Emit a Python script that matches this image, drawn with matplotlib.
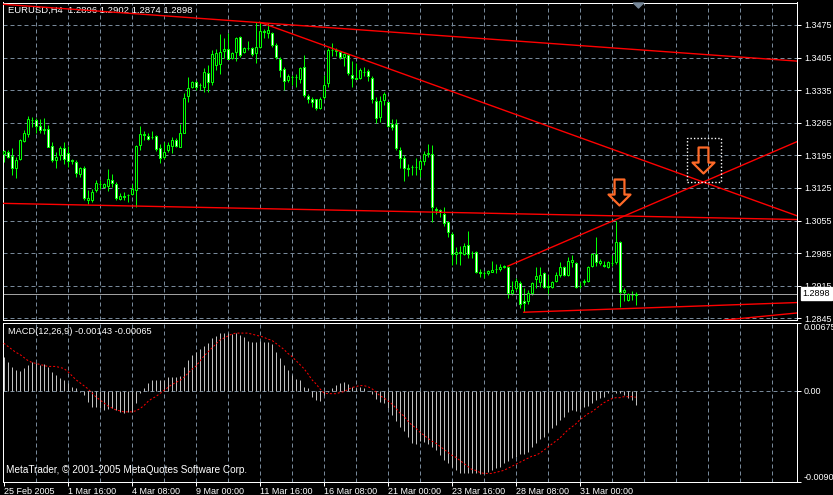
"""EURUSD H4 chart in the MetaTrader look: candles, trend lines, MACD"""

import numpy as np
import matplotlib.pyplot as plt
from matplotlib.path import Path
from matplotlib.patches import Rectangle
from matplotlib.transforms import ScaledTranslation, blended_transform_factory

plt.rcParams['font.family'] = ['Liberation Sans', 'DejaVu Sans']

symbol = 'EURUSD,H4'

# H4 bars, 25 Feb 2005 00:00 .. 1 Apr 2005
opens = [
    1.3197, 1.3202, 1.3193, 1.3168, 1.3188, 1.3226, 1.3240, 1.3271, 1.3271, 1.3259,
    1.3251, 1.3251, 1.3215, 1.3184, 1.3195, 1.3210, 1.3199, 1.3184, 1.3181, 1.3154,
    1.3167, 1.3099, 1.3098, 1.3120, 1.3134, 1.3127, 1.3129, 1.3143, 1.3134, 1.3101,
    1.3107, 1.3109, 1.3112, 1.3121, 1.3217, 1.3240, 1.3237, 1.3235, 1.3236, 1.3210,
    1.3192, 1.3206, 1.3215, 1.3227, 1.3213, 1.3243, 1.3323, 1.3342, 1.3352, 1.3346,
    1.3342, 1.3371, 1.3353, 1.3389, 1.3391, 1.3419, 1.3424, 1.3405, 1.3418, 1.3449,
    1.3418, 1.3426, 1.3425, 1.3414, 1.3428, 1.3462, 1.3457, 1.3457, 1.3432, 1.3403,
    1.3380, 1.3357, 1.3364, 1.3363, 1.3360, 1.3384, 1.3322, 1.3316, 1.3315, 1.3297,
    1.3321, 1.3351, 1.3421, 1.3420, 1.3416, 1.3406, 1.3411, 1.3367, 1.3361, 1.3361,
    1.3375, 1.3376, 1.3362, 1.3311, 1.3278, 1.3314, 1.3309, 1.3263, 1.3262, 1.3207,
    1.3190, 1.3167, 1.3169, 1.3170, 1.3165, 1.3183, 1.3197, 1.3197, 1.3080, 1.3078,
    1.3068, 1.3051, 1.3027, 1.2983, 1.2987, 1.2983, 1.3003, 1.2985, 1.2987, 1.2945,
    1.2943, 1.2942, 1.2945, 1.2951, 1.2951, 1.2955, 1.2956, 1.2899, 1.2910, 1.2920,
    1.2883, 1.2883, 1.2899, 1.2930, 1.2922, 1.2942, 1.2914, 1.2913, 1.2924, 1.2937,
    1.2956, 1.2937, 1.2965, 1.2963, 1.2915, 1.2923, 1.2924, 1.2958, 1.2983, 1.2963,
    1.2960, 1.2955, 1.2964, 1.2965, 1.3008, 1.2901, 1.2884, 1.2894, 1.2896]
highs = [
    1.3207, 1.3207, 1.3210, 1.3192, 1.3231, 1.3249, 1.3279, 1.3278, 1.3276, 1.3274,
    1.3276, 1.3260, 1.3224, 1.3202, 1.3215, 1.3224, 1.3215, 1.3188, 1.3184, 1.3170,
    1.3172, 1.3120, 1.3123, 1.3143, 1.3143, 1.3135, 1.3165, 1.3154, 1.3138, 1.3114,
    1.3116, 1.3113, 1.3134, 1.3217, 1.3258, 1.3247, 1.3242, 1.3247, 1.3238, 1.3220,
    1.3224, 1.3224, 1.3235, 1.3233, 1.3263, 1.3328, 1.3364, 1.3354, 1.3357, 1.3351,
    1.3383, 1.3389, 1.3421, 1.3424, 1.3455, 1.3447, 1.3457, 1.3416, 1.3450, 1.3452,
    1.3428, 1.3441, 1.3428, 1.3481, 1.3481, 1.3467, 1.3479, 1.3461, 1.3436, 1.3407,
    1.3385, 1.3369, 1.3367, 1.3369, 1.3385, 1.3411, 1.3326, 1.3321, 1.3317, 1.3321,
    1.3367, 1.3425, 1.3437, 1.3425, 1.3419, 1.3415, 1.3412, 1.3398, 1.3394, 1.3382,
    1.3384, 1.3380, 1.3365, 1.3321, 1.3322, 1.3330, 1.3310, 1.3274, 1.3274, 1.3212,
    1.3195, 1.3177, 1.3174, 1.3190, 1.3188, 1.3204, 1.3219, 1.3217, 1.3085, 1.3080,
    1.3085, 1.3055, 1.3030, 1.2998, 1.3001, 1.3006, 1.3032, 1.2990, 1.2990, 1.2951,
    1.2947, 1.2949, 1.2967, 1.2962, 1.2962, 1.2960, 1.2958, 1.2926, 1.2932, 1.2924,
    1.2910, 1.2906, 1.2922, 1.2955, 1.2956, 1.2944, 1.2937, 1.2926, 1.2944, 1.2965,
    1.2958, 1.2976, 1.2980, 1.2965, 1.2922, 1.2930, 1.2958, 1.2985, 1.3019, 1.2973,
    1.2967, 1.2969, 1.2980, 1.3055, 1.3012, 1.2910, 1.2899, 1.2904, 1.2902]
lows = [
    1.3181, 1.3190, 1.3152, 1.3147, 1.3184, 1.3224, 1.3235, 1.3256, 1.3243, 1.3242,
    1.3240, 1.3212, 1.3181, 1.3168, 1.3184, 1.3176, 1.3170, 1.3177, 1.3148, 1.3148,
    1.3100, 1.3090, 1.3095, 1.3116, 1.3123, 1.3126, 1.3118, 1.3126, 1.3098, 1.3098,
    1.3098, 1.3095, 1.3109, 1.3085, 1.3206, 1.3229, 1.3227, 1.3231, 1.3204, 1.3179,
    1.3188, 1.3202, 1.3199, 1.3213, 1.3212, 1.3242, 1.3309, 1.3340, 1.3335, 1.3335,
    1.3332, 1.3330, 1.3346, 1.3378, 1.3369, 1.3405, 1.3402, 1.3403, 1.3398, 1.3407,
    1.3414, 1.3421, 1.3409, 1.3393, 1.3426, 1.3448, 1.3447, 1.3428, 1.3402, 1.3364,
    1.3335, 1.3353, 1.3346, 1.3342, 1.3350, 1.3321, 1.3307, 1.3299, 1.3292, 1.3294,
    1.3317, 1.3342, 1.3408, 1.3408, 1.3403, 1.3387, 1.3367, 1.3342, 1.3358, 1.3360,
    1.3365, 1.3355, 1.3307, 1.3265, 1.3267, 1.3303, 1.3256, 1.3249, 1.3206, 1.3168,
    1.3140, 1.3150, 1.3152, 1.3152, 1.3148, 1.3174, 1.3192, 1.3051, 1.3068, 1.3062,
    1.3044, 1.3019, 1.2960, 1.2962, 1.2960, 1.2980, 1.2975, 1.2975, 1.2942, 1.2933,
    1.2932, 1.2937, 1.2944, 1.2942, 1.2946, 1.2953, 1.2889, 1.2894, 1.2906, 1.2867,
    1.2858, 1.2876, 1.2894, 1.2911, 1.2913, 1.2910, 1.2894, 1.2911, 1.2922, 1.2933,
    1.2935, 1.2935, 1.2955, 1.2910, 1.2910, 1.2917, 1.2922, 1.2956, 1.2958, 1.2960,
    1.2955, 1.2953, 1.2958, 1.2962, 1.2870, 1.2883, 1.2883, 1.2884, 1.2874]
closes = [
    1.3204, 1.3192, 1.3167, 1.3184, 1.3227, 1.3244, 1.3273, 1.3270, 1.3259, 1.3249,
    1.3250, 1.3213, 1.3184, 1.3192, 1.3210, 1.3188, 1.3182, 1.3183, 1.3157, 1.3167,
    1.3103, 1.3104, 1.3116, 1.3136, 1.3133, 1.3133, 1.3145, 1.3135, 1.3104, 1.3107,
    1.3106, 1.3110, 1.3122, 1.3215, 1.3240, 1.3239, 1.3230, 1.3235, 1.3208, 1.3190,
    1.3202, 1.3217, 1.3229, 1.3215, 1.3243, 1.3319, 1.3339, 1.3352, 1.3342, 1.3346,
    1.3373, 1.3353, 1.3412, 1.3414, 1.3416, 1.3424, 1.3403, 1.3414, 1.3447, 1.3411,
    1.3425, 1.3426, 1.3412, 1.3428, 1.3462, 1.3461, 1.3464, 1.3431, 1.3407, 1.3378,
    1.3354, 1.3365, 1.3363, 1.3364, 1.3382, 1.3324, 1.3317, 1.3309, 1.3297, 1.3317,
    1.3347, 1.3421, 1.3421, 1.3421, 1.3407, 1.3413, 1.3371, 1.3362, 1.3360, 1.3378,
    1.3374, 1.3366, 1.3315, 1.3275, 1.3311, 1.3327, 1.3258, 1.3256, 1.3211, 1.3190,
    1.3168, 1.3166, 1.3170, 1.3170, 1.3182, 1.3197, 1.3199, 1.3084, 1.3077, 1.3073,
    1.3049, 1.3030, 1.2983, 1.2988, 1.2986, 1.3001, 1.2983, 1.2985, 1.2944, 1.2943,
    1.2942, 1.2946, 1.2949, 1.2951, 1.2955, 1.2958, 1.2899, 1.2906, 1.2924, 1.2876,
    1.2877, 1.2899, 1.2920, 1.2935, 1.2939, 1.2913, 1.2913, 1.2922, 1.2937, 1.2956,
    1.2937, 1.2969, 1.2970, 1.2913, 1.2915, 1.2924, 1.2956, 1.2982, 1.2965, 1.2969,
    1.2957, 1.2965, 1.2964, 1.3008, 1.2901, 1.2906, 1.2897, 1.2895, 1.2898]

# MACD(12,26,9): main value (histogram) and signal (dotted line)
macd_main = [
    0.00337, 0.00287, 0.00238, 0.00205, 0.00195, 0.00221, 0.00254, 0.00287, 0.00271, 0.00254,
    0.00264, 0.00238, 0.00188, 0.00155, 0.00122, 0.00106, 0.00073, 0.00040, 0.00023, -0.00010,
    -0.00043, -0.00109, -0.00158, -0.00165, -0.00175, -0.00191, -0.00185, -0.00175, -0.00191, -0.00208,
    -0.00218, -0.00208, -0.00208, -0.00125, -0.00026, 0.00023, 0.00073, 0.00106, 0.00106, 0.00106,
    0.00106, 0.00132, 0.00132, 0.00132, 0.00145, 0.00238, 0.00304, 0.00353, 0.00386, 0.00409,
    0.00442, 0.00475, 0.00518, 0.00541, 0.00568, 0.00574, 0.00568, 0.00558, 0.00568, 0.00551,
    0.00528, 0.00495, 0.00485, 0.00485, 0.00495, 0.00485, 0.00485, 0.00462, 0.00386, 0.00320,
    0.00254, 0.00205, 0.00155, 0.00112, 0.00106, 0.00033, 0.00023, -0.00059, -0.00092, -0.00102,
    -0.00043, -0.00010, 0.00023, 0.00056, 0.00079, 0.00089, 0.00066, 0.00033, 0.00023, 0.00033,
    0.00023, 0.00000, -0.00033, -0.00086, -0.00109, -0.00125, -0.00175, -0.00241, -0.00297, -0.00363,
    -0.00396, -0.00462, -0.00515, -0.00528, -0.00495, -0.00505, -0.00528, -0.00554, -0.00587, -0.00637,
    -0.00686, -0.00719, -0.00752, -0.00785, -0.00818, -0.00812, -0.00818, -0.00812, -0.00818, -0.00825,
    -0.00818, -0.00802, -0.00785, -0.00769, -0.00752, -0.00719, -0.00693, -0.00670, -0.00653, -0.00627,
    -0.00627, -0.00604, -0.00554, -0.00515, -0.00482, -0.00455, -0.00406, -0.00373, -0.00340, -0.00290,
    -0.00257, -0.00208, -0.00191, -0.00198, -0.00185, -0.00158, -0.00152, -0.00125, -0.00092, -0.00076,
    -0.00059, -0.00026, -0.00010, -0.00026, -0.00020, -0.00043, -0.00076, -0.00092, -0.00143]
macd_signal = [
    0.0047, 0.0044, 0.0041, 0.0038, 0.0036, 0.0033, 0.0030, 0.0028, 0.0027, 0.0026,
    0.0025, 0.0024, 0.0024, 0.0024, 0.0023, 0.0022, 0.0019, 0.0015, 0.0011, 0.0008,
    0.0005, 0.0002, -0.0002, -0.0006, -0.0009, -0.0012, -0.0015, -0.0017, -0.0019, -0.0020,
    -0.0021, -0.0021, -0.0021, -0.0020, -0.0018, -0.0015, -0.0011, -0.0008, -0.0006, -0.0003,
    0.0000, 0.0003, 0.0006, 0.0008, 0.0010, 0.0013, 0.0017, 0.0021, 0.0024, 0.0029,
    0.0034, 0.0038, 0.0042, 0.0046, 0.0050, 0.0052, 0.0054, 0.0056, 0.0057, 0.0057,
    0.0057, 0.0057, 0.0056, 0.0055, 0.0054, 0.0053, 0.0051, 0.0050, 0.0047, 0.0044,
    0.0041, 0.0037, 0.0034, 0.0030, 0.0026, 0.0022, 0.0017, 0.0011, 0.0007, 0.0002,
    -0.0002, -0.0003, -0.0003, -0.0003, -0.0002, -0.0001, 0.0001, 0.0003, 0.0004, 0.0005,
    0.0005, 0.0004, 0.0002, -0.0001, -0.0005, -0.0007, -0.0010, -0.0013, -0.0017, -0.0022,
    -0.0025, -0.0030, -0.0034, -0.0037, -0.0041, -0.0044, -0.0047, -0.0050, -0.0052, -0.0055,
    -0.0058, -0.0061, -0.0064, -0.0066, -0.0069, -0.0072, -0.0075, -0.0078, -0.0079, -0.0081,
    -0.0082, -0.0082, -0.0082, -0.0081, -0.0080, -0.0079, -0.0077, -0.0075, -0.0073, -0.0071,
    -0.0069, -0.0067, -0.0065, -0.0064, -0.0062, -0.0059, -0.0056, -0.0053, -0.0050, -0.0047,
    -0.0043, -0.0039, -0.0036, -0.0033, -0.0029, -0.0026, -0.0023, -0.0021, -0.0018, -0.0015,
    -0.0012, -0.0010, -0.0008, -0.0007, -0.0007, -0.0006, -0.0006, -0.0006, -0.00065]

time_labels = ['25 Feb 2005', '1 Mar 16:00', '4 Mar 08:00', '9 Mar 00:00', '11 Mar 16:00',
               '16 Mar 08:00', '21 Mar 00:00', '23 Mar 16:00', '28 Mar 08:00', '31 Mar 00:00']
price_ticks = [1.2845, 1.2915, 1.2985, 1.3055, 1.3125, 1.3195, 1.3265, 1.3335, 1.3405, 1.3475]
macd_range = [-0.00905, 0.00675]

# trend lines: (bar1, price1, bar2, price2)
trend_lines = [
    (-1, 1.3520, 199, 1.3397),
    (64, 1.3481, 199, 1.3063),
    (-1, 1.3092, 199, 1.3057),
    (126, 1.2957, 199, 1.3227),
    (130, 1.2858, 199, 1.2879),
    (180, 1.2841, 199, 1.2857),
]
# down arrows (bar, price); the second one is selected
arrow_bars = [153.75, 174.9]
arrow_prices = [1.3116, 1.3185]

LIME = '#00ff00'
GRID = '#778899'
PX = 0.72  # one pixel in points at 100 dpi

fig = plt.figure(figsize=(8.33, 4.95), dpi=100, facecolor='black')
W, H = 833, 495
ax = fig.add_axes([2.5 / W, 1 - 320 / H, 794.5 / W, 317.5 / H], facecolor='black')
ax2 = fig.add_axes([2.5 / W, 1 - 482 / H, 794.5 / W, 159.5 / H], facecolor='black', sharex=ax)

x = np.arange(len(closes))
o, h, l, c = map(np.array, (opens, highs, lows, closes))

# сетка
for a in (ax, ax2):
    for g in range(8, 200, 8):
        a.axvline(g, color=GRID, lw=PX, ls=(0, (4, 3)), zorder=0)
for p in price_ticks:
    ax.axhline(p, color=GRID, lw=PX, ls=(0, (4, 3)), zorder=0)
ax2.axhline(0, color=GRID, lw=PX, ls=(0, (4, 3)), zorder=0)

# title under the lines
ax.text(5 / 794.5, 1 - 7.5 / 317.5, '%s  %.4f %.4f %.4f %.4f' % (symbol, o[-1], h[-1], l[-1], c[-1]),
        transform=ax.transAxes, color='white', fontsize=6.8, va='center', zorder=1)

# candles
up = c >= o
ax.vlines(x, l, h, color=LIME, lw=PX, zorder=2)
ax.bar(x, np.abs(c - o), bottom=np.minimum(o, c), width=0.6,
       color=np.where(up, 'black', 'white'), edgecolor=LIME, linewidth=PX, zorder=3)

# bid line
ax.axhline(c[-1], color='#a0a0a0', lw=PX, zorder=2)

# trend lines
for b1, p1, b2, p2 in trend_lines:
    ax.plot([b1, b2], [p1, p2], color='red', lw=1.0, zorder=4)

# arrows
arrow = Path([(-0.19, 0.5), (0.19, 0.5), (0.19, -0.08), (0.423, -0.08), (0, -0.5),
              (-0.423, -0.08), (-0.19, -0.08), (-0.19, 0.5)], closed=True)
ax.plot(arrow_bars, arrow_prices, ls='none', marker=arrow, ms=18.7, mfc='none',
        mec='#ff6a28', mew=1.6, zorder=5)
sel = fig.dpi_scale_trans + ScaledTranslation(arrow_bars[1], arrow_prices[1], ax.transData)
ax.add_patch(Rectangle((-0.165, -0.22), 0.34, 0.44, transform=sel, fill=False,
                       edgecolor='white', lw=1.0, ls=(0, (1, 1.5)), zorder=5))

# chart shift marker
tri = Path([(-1, 0.5), (1, 0.5), (0, -0.5), (-1, 0.5)], closed=True)
ax.plot([len(closes) - 0.5], [0.991], marker=tri, ms=7.2, color=GRID, ls='none',
        transform=blended_transform_factory(ax.transData, ax.transAxes), clip_on=False, zorder=5)

# MACD
ax2.vlines(x, 0, macd_main, color='#c0c0c0', lw=PX, zorder=2)
ax2.plot(x, macd_signal, color='red', lw=PX, ls=(0, (2, 2)), zorder=3)
ax2.text(5 / 794.5, 1 - 9.5 / 159.5, 'MACD(12,26,9) %.5f %.5f' % (macd_main[-1], macd_signal[-1]),
         transform=ax2.transAxes, color='white', fontsize=6.7, va='center')
ax2.text(3.5 / 794.5, 12 / 159.5, 'MetaTrader, \u00a9 2001-2005 MetaQuotes Software Corp.',
         transform=ax2.transAxes, color='white', fontsize=7.2, va='center')

# оси
ax.set_xlim(-0.3, 198.3)
ax.set_ylim(1.28413, 1.35233)
ax2.set_ylim(*macd_range)

for a in (ax, ax2):
    for s in a.spines.values():
        s.set_color('white')
        s.set_linewidth(PX)
    a.yaxis.tick_right()
    a.tick_params(axis='y', colors='white', length=3, width=PX, labelsize=6.5, pad=2)

ax.set_yticks(price_ticks)
ax.set_yticklabels(['%.4f' % p for p in price_ticks])
ax.tick_params(axis='x', bottom=False, labelbottom=False)

ax2.set_yticks([macd_range[0], 0, macd_range[1]])
ax2.set_yticklabels(['%.5f' % macd_range[0], '0.00', '%.5f' % macd_range[1]])
ylabels = ax2.get_yticklabels()
ylabels[0].set_va('bottom')
ylabels[2].set_va('top')

ax2.set_xticks(range(0, 16 * len(time_labels), 16))
ax2.set_xticklabels(time_labels, ha='left')
ax2.tick_params(axis='x', colors='white', length=3, width=PX, labelsize=6.5, pad=0.3)

# current price box
ax.annotate('%.4f' % c[-1], xy=(1, c[-1]), xycoords=blended_transform_factory(ax.transAxes, ax.transData),
            xytext=(4, 0), textcoords='offset points', va='center', ha='left', fontsize=6.5,
            color='black', annotation_clip=False, zorder=10,
            bbox=dict(boxstyle='square,pad=0.2', fc='white', ec='white'))

plt.savefig('out.png', dpi=100, facecolor='black')
